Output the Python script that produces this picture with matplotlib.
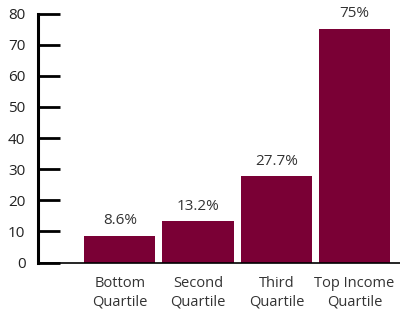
import matplotlib.pyplot as plt
import numpy as np

categories = ['Bottom\nQuartile', 'Second\nQuartile', 'Third\nQuartile', 'Top Income\nQuartile']
values = [8.6, 13.2, 27.7, 75]
labels = ['8.6%', '13.2%', '27.7%', '75%']

plt.rcParams['font.family'] = ['Open Sans', 'DejaVu Sans']

fig = plt.figure(figsize=(4.0, 3.14), dpi=100)
ax = fig.add_axes([0.095, 0.164, 0.905, 0.793])

x = np.arange(len(values))
bars = ax.bar(x, values, width=0.91, color='#7a0035')

for b, lab in zip(bars, labels):
    ax.text(b.get_x() + b.get_width() / 2, b.get_height() + 2.5, lab,
            ha='center', va='bottom', fontsize=11, color='#333333')

ax.set_xlim(-1.045, 3.58)
ax.set_ylim(0, 80)
ax.set_yticks(range(0, 81, 10))
ax.set_xticks(x)
ax.set_xticklabels(categories, fontsize=10.5, color='#333333', linespacing=1.3)

ax.spines['top'].set_visible(False)
ax.spines['right'].set_visible(False)
ax.spines['left'].set_linewidth(2.2)
ax.spines['bottom'].set_linewidth(1.2)
ax.tick_params(axis='y', direction='in', length=16, width=2, labelsize=11,
               labelcolor='#222222', pad=9)
ax.tick_params(axis='x', length=0, pad=10)

fig.savefig('out.png', dpi=100)
